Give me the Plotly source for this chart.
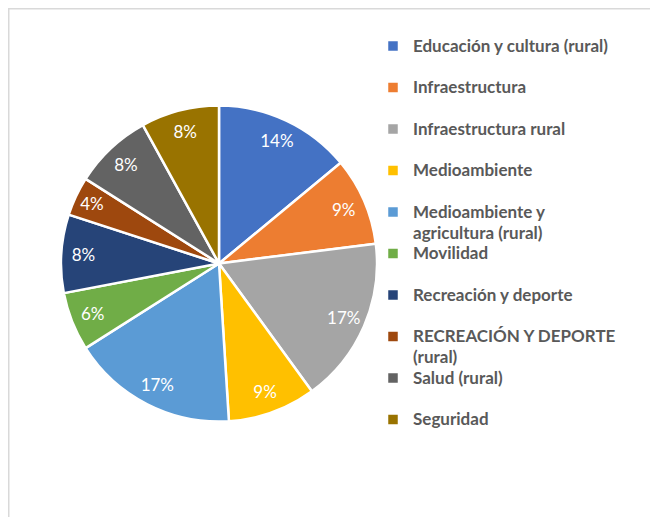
import plotly.graph_objects as go

# categories and their shares (percent), clockwise from 12 o'clock
labels = [
    "Educación y cultura (rural)",
    "Infraestructura",
    "Infraestructura rural",
    "Medioambiente",
    "Medioambiente y<br>agricultura (rural)",
    "Movilidad",
    "Recreación y deporte",
    "RECREACIÓN Y DEPORTE<br>(rural)",
    "Salud (rural)",
    "Seguridad",
]
values = [14, 9, 17, 9, 17, 6, 8, 4, 8, 8]
colors = ["#4472C4", "#ED7D31", "#A5A5A5", "#FFC000", "#5B9BD5",
          "#70AD47", "#264478", "#9E480E", "#636363", "#997300"]

# Legend spacing trick: the legend font is tiny so one "line" is 1.375px tall,
# every entry gets 28 of those rows, and the real text sits in 17px spans.
ROW = 1.375
N_ROWS = 28
FIRST, SECOND = 4, 19

def legend_text(l):
    parts = [f"<span style='font-size:17px'>{s}</span>" for s in l.split("<br>")]
    rows = [" "] * N_ROWS
    rows[FIRST] = parts[0]
    if len(parts) > 1:
        rows[SECOND] = parts[1]
    return "<br>".join(rows)

legend_labels = [legend_text(l) for l in labels]

# page body has an 8px margin, so the figure is drawn 8px in from the window corner
W, H = 650, 509
pie_dom = dict(x=[53 / W, 369 / W], y=[(H - 414) / H, (H - 97) / H])

fig = go.Figure()
# the coloured slices
fig.add_trace(
    go.Pie(
        labels=legend_labels,
        values=values,
        sort=False,
        direction="clockwise",
        rotation=0,
        marker=dict(colors=colors, line=dict(color="white", width=2.5)),
        textinfo="none",
        domain=pie_dom,
        hoverinfo="percent",
    )
)
# transparent ring on top only to carry the percent labels near the rim
fig.add_trace(
    go.Pie(
        labels=legend_labels,
        values=values,
        sort=False,
        direction="clockwise",
        rotation=0,
        hole=0.72,
        marker=dict(colors=["rgba(0,0,0,0)"] * len(values), line=dict(width=0)),
        texttemplate="%{percent:.0%}",
        textposition="inside",
        insidetextorientation="horizontal",
        textfont=dict(family="Lato", size=17, color="white"),
        domain=pie_dom,
        hoverinfo="skip",
        showlegend=False,
    )
)

fig.update_layout(
    width=W,
    height=H,
    margin=dict(l=0, r=0, t=0, b=0),
    paper_bgcolor="white",
    plot_bgcolor="white",
    legend=dict(
        x=365 / W,
        y=1 - 30.8 / H,
        xanchor="left",
        yanchor="top",
        valign="top",
        font=dict(family="Lato", size=ROW / 1.3, color="#595959", weight="bold"),
        bgcolor="rgba(0,0,0,0)",
    ),
    shapes=[
        dict(
            type="rect", xref="paper", yref="paper",
            x0=0.5 / W, x1=1.05, y0=-0.05, y1=1 - 0.5 / H,
            line=dict(color="#D9D9D9", width=2),
        )
    ],
)

fig.write_html("out.html")
